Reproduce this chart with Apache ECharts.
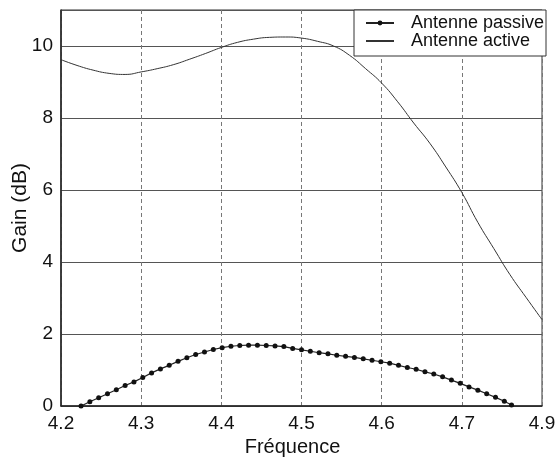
<!DOCTYPE html>
<html>
<head>
<meta charset="utf-8">
<script src="https://cdn.jsdelivr.net/npm/echarts@6/dist/echarts.min.js"></script>
<style>
  html, body { margin: 0; padding: 0; background: #fff; }
  #chart { width: 559px; height: 457px; }
</style>
</head>
<body>
<div id="chart"></div>
<script>
// Antenne active : courbe lisse
var freqActive = [4.20, 4.22, 4.24, 4.26, 4.28, 4.30, 4.32, 4.34, 4.36, 4.38, 4.40,
  4.42, 4.44, 4.46, 4.48, 4.50, 4.52, 4.54, 4.56, 4.58, 4.60, 4.62, 4.64, 4.66,
  4.68, 4.70, 4.72, 4.74, 4.76, 4.78, 4.80];
var gainActive = [9.62, 9.46, 9.33, 9.24, 9.21, 9.28, 9.37, 9.48, 9.63, 9.79, 9.96,
  10.10, 10.19, 10.24, 10.25, 10.22, 10.13, 10.00, 9.74, 9.37, 8.97, 8.45, 7.86, 7.30,
  6.64, 5.93, 5.10, 4.37, 3.65, 3.02, 2.40];

// Antenne passive : points mesures
var freqPassive = [4.225, 4.236, 4.247, 4.258, 4.269, 4.280, 4.291, 4.302, 4.313, 4.324,
  4.335, 4.346, 4.357, 4.368, 4.379, 4.390, 4.401, 4.412, 4.423, 4.434, 4.445, 4.456,
  4.467, 4.478, 4.489, 4.500, 4.511, 4.522, 4.533, 4.544, 4.555, 4.566, 4.577, 4.588,
  4.599, 4.610, 4.621, 4.632, 4.643, 4.654, 4.665, 4.676, 4.687, 4.698, 4.709, 4.720,
  4.731, 4.742, 4.753, 4.762];
var gainPassive = [0.00, 0.12, 0.23, 0.34, 0.45, 0.57, 0.67, 0.79, 0.92, 1.03,
  1.13, 1.24, 1.34, 1.43, 1.50, 1.57, 1.62, 1.66, 1.68, 1.69, 1.69, 1.68,
  1.67, 1.65, 1.60, 1.56, 1.52, 1.48, 1.45, 1.41, 1.38, 1.35, 1.31, 1.27,
  1.23, 1.19, 1.13, 1.07, 1.02, 0.95, 0.89, 0.81, 0.72, 0.63, 0.53, 0.44,
  0.34, 0.24, 0.13, 0.03];

// libelles de l'axe x (le dernier est "4.9" sur l'original)
var xTickLabels = { "4.2": "4.2", "4.3": "4.3", "4.4": "4.4", "4.5": "4.5",
  "4.6": "4.6", "4.7": "4.7", "4.8": "4.9" };

function pairs(xs, ys) {
  return xs.map(function (x, i) { return [x, ys[i]]; });
}

var myChart = echarts.init(document.getElementById("chart"));
myChart.setOption({
  animation: false,
  textStyle: { fontFamily: "Liberation Sans, Arial, sans-serif" },
  grid: {
    left: 61, right: 17, top: 10, bottom: 51,
    outerBoundsMode: "none",
    containLabel: false,
    show: true, borderColor: "#333", borderWidth: 1
  },
  legend: {
    left: 354, top: 10,
    orient: "vertical",
    padding: [4, 0, 6, 11],
    itemGap: 0,
    itemWidth: 28,
    itemHeight: 6,
    backgroundColor: "#fff",
    borderColor: "#333",
    borderWidth: 1,
    borderRadius: 0,
    textStyle: {
      fontSize: 18, lineHeight: 17, color: "#111", padding: [0, 0, 0, 12],
      width: 135, overflow: "truncate", ellipsis: ""
    },
    data: [
      "Antenne passive",
      // trait seul, sans point
      { name: "Antenne active", itemStyle: { opacity: 0 } }
    ]
  },
  xAxis: {
    type: "value",
    min: 4.2, max: 4.8, interval: 0.1,
    name: "Fréquence",
    nameLocation: "middle",
    nameGap: 31,
    nameTextStyle: { fontSize: 20, color: "#111", padding: [0, 18, 0, 0] },
    axisLine: { lineStyle: { color: "#222", width: 1.5 } },
    axisTick: { show: false },
    axisLabel: {
      fontSize: 19, color: "#111", margin: 8,
      formatter: function (v) { return xTickLabels[v.toFixed(1)] || ""; }
    },
    splitLine: { lineStyle: { color: "#777", type: [4, 3] } }
  },
  yAxis: {
    type: "value",
    min: 0, max: 11, interval: 2,
    name: "Gain (dB)",
    nameLocation: "middle",
    nameGap: 30,
    nameMoveOverlap: false,
    nameTextStyle: { fontSize: 21, color: "#111" },
    axisLine: { show: true, lineStyle: { color: "#222", width: 1.5 } },
    axisTick: { show: false },
    axisLabel: { fontSize: 19, color: "#111", margin: 8, showMaxLabel: false },
    splitLine: { lineStyle: { color: "#555", width: 1 } }
  },
  series: [
    {
      name: "Antenne passive",
      type: "line",
      data: pairs(freqPassive, gainPassive),
      symbol: "circle",
      symbolSize: 5,
      itemStyle: { color: "#111" },
      lineStyle: { color: "#222", width: 1.2 }
    },
    {
      name: "Antenne active",
      type: "line",
      data: pairs(freqActive, gainActive),
      smooth: true,
      symbol: "none",
      itemStyle: { color: "#333" },
      lineStyle: { color: "#333", width: 1 }
    }
  ]
});
</script>
</body>
</html>
